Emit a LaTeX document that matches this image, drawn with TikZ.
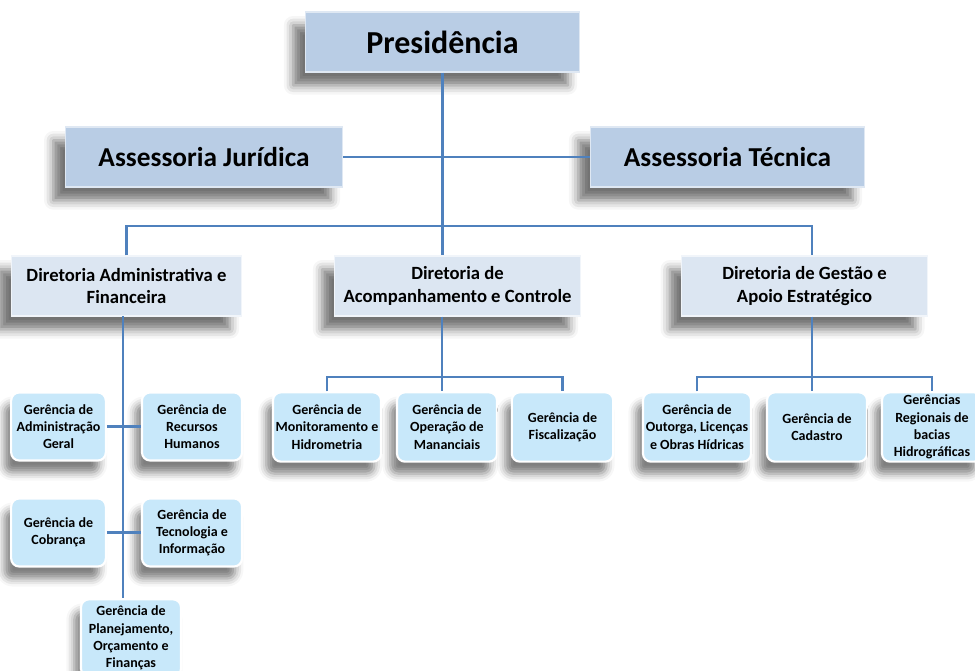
\documentclass[tikz,border=0pt]{standalone}
\usepackage{fontspec}
\setmainfont{Carlito}
\usepackage{tikz}
\usetikzlibrary{shadows.blur}
\definecolor{topblue}{RGB}{185,205,229}
\definecolor{dirblue}{RGB}{220,230,242}
\definecolor{gerblue}{RGB}{200,232,250}
\definecolor{lineblue}{RGB}{79,129,189}

\begin{document}
\begin{tikzpicture}[x=0.75pt, y=-0.75pt,
    topbox/.style={draw=topblue!45!white, line width=0.8pt, fill=topblue,
      minimum height=45pt, font=\fontsize{20.5}{24}\selectfont\bfseries,
      blur shadow={shadow xshift=-9pt, shadow yshift=-10pt, shadow blur radius=7pt, shadow opacity=55}},
    dirbox/.style={draw=dirblue!40!white, line width=0.8pt, fill=dirblue, align=center,
      minimum height=45pt, font=\fontsize{14}{17}\selectfont\bfseries,
      blur shadow={shadow xshift=-9pt, shadow yshift=-10pt, shadow blur radius=7pt, shadow opacity=55}},
    gerbox/.style={draw=white, line width=1.6pt, fill=gerblue, rounded corners=6pt, align=center,
      inner sep=1pt, minimum height=51pt, font=\fontsize{10.5}{12.9}\selectfont\bfseries,
      blur shadow={shadow xshift=-5pt, shadow yshift=-9pt, shadow blur radius=6pt, shadow opacity=50}},
    conn/.style={draw=lineblue, line width=1.8pt}]
  \useasboundingbox (0,0) rectangle (975,671);

  % top level
  \node[topbox, font=\fontsize{24}{28}\selectfont\bfseries, minimum width=206pt] (pres) at (442.5,42) {Presidência};
  \node[topbox, minimum width=208pt] (assj) at (204,157) {Assessoria Jurídica};
  \node[topbox, minimum width=206pt] (asst) at (727.5,157) {Assessoria Técnica};

  % diretorias
  \node[dirbox, minimum width=173pt, text depth=-4pt] (dadm) at (126.5,286) {Diretoria Administrativa e\\Financeira};
  \node[dirbox, minimum width=185pt] (dacp) at (457.5,286) {Diretoria de\\Acompanhamento e Controle};
  \node[dirbox, minimum width=184pt] (dges) at (804.5,286) {Diretoria de Gestão e\\Apoio Estratégico};

  % gerencias
  \node[gerbox, minimum width=71pt] (gadm) at (58.5,426.5) {Gerência de\\Administração\\Geral};
  \node[gerbox, minimum width=75pt] (grh) at (192,426.5) {Gerência de\\Recursos\\Humanos};
  \node[gerbox, minimum width=71pt] (gcob) at (58.5,532.5) {Gerência de\\Cobrança};
  \node[gerbox, minimum width=75pt] (gti) at (192,532.5) {Gerência de\\Tecnologia e\\Informação};
  \node[gerbox, minimum width=75pt, minimum height=58pt] (gpla) at (131,638) {Gerência de\\Planejamento,\\Orçamento e\\Finanças};

  \node[gerbox, minimum width=81pt, minimum height=52pt] (gmon) at (327,427) {Gerência de\\Monitoramento e\\Hidrometria};
  \node[gerbox, minimum width=75pt, minimum height=52pt] (gope) at (447,427) {Gerência de\\Operação de\\Mananciais};
  \node[gerbox, minimum width=76pt, minimum height=52pt] (gfis) at (562.5,427) {Gerência de\\Fiscalização};

  \node[gerbox, minimum width=81pt, minimum height=52pt] (gout) at (697,427) {Gerência de\\Outorga, Licenças\\e Obras Hídricas};
  \node[gerbox, minimum width=75pt, minimum height=52pt] (gcad) at (817,427) {Gerência de\\Cadastro};
  \node[gerbox, minimum width=75pt, minimum height=52pt] (greg) at (932,427) {Gerências\\Regionais de\\bacias\\Hidrográficas};

  % connectors
  \coordinate (tbar) at (442,226);
  \coordinate (abar) at (442,377);
  \coordinate (gbar) at (812,377);
  \coordinate (dbar) at (123,316);
  \draw[conn] (pres.south) -- (pres.south |- dacp.north);
  \draw[conn] (assj.east) -- (asst.west);
  \draw[conn] (dadm.north) |- (tbar) -| (gbar |- dges.north);
  \draw[conn] (dbar) -- (dbar |- gpla.north);
  \draw[conn] (gadm.east) -- (grh.west);
  \draw[conn] (gcob.east) -- (gti.west);
  \draw[conn] (abar |- dacp.south) -- (abar);
  \draw[conn] (gmon.north) |- (abar) -| (gfis.north);
  \draw[conn] (abar) -- (abar |- gope.north);
  \draw[conn] (gbar |- dges.south) -- (gbar);
  \draw[conn] (gout.north) |- (gbar) -| (greg.north);
  \draw[conn] (gbar) -- (gbar |- gcad.north);
\end{tikzpicture}
\end{document}
